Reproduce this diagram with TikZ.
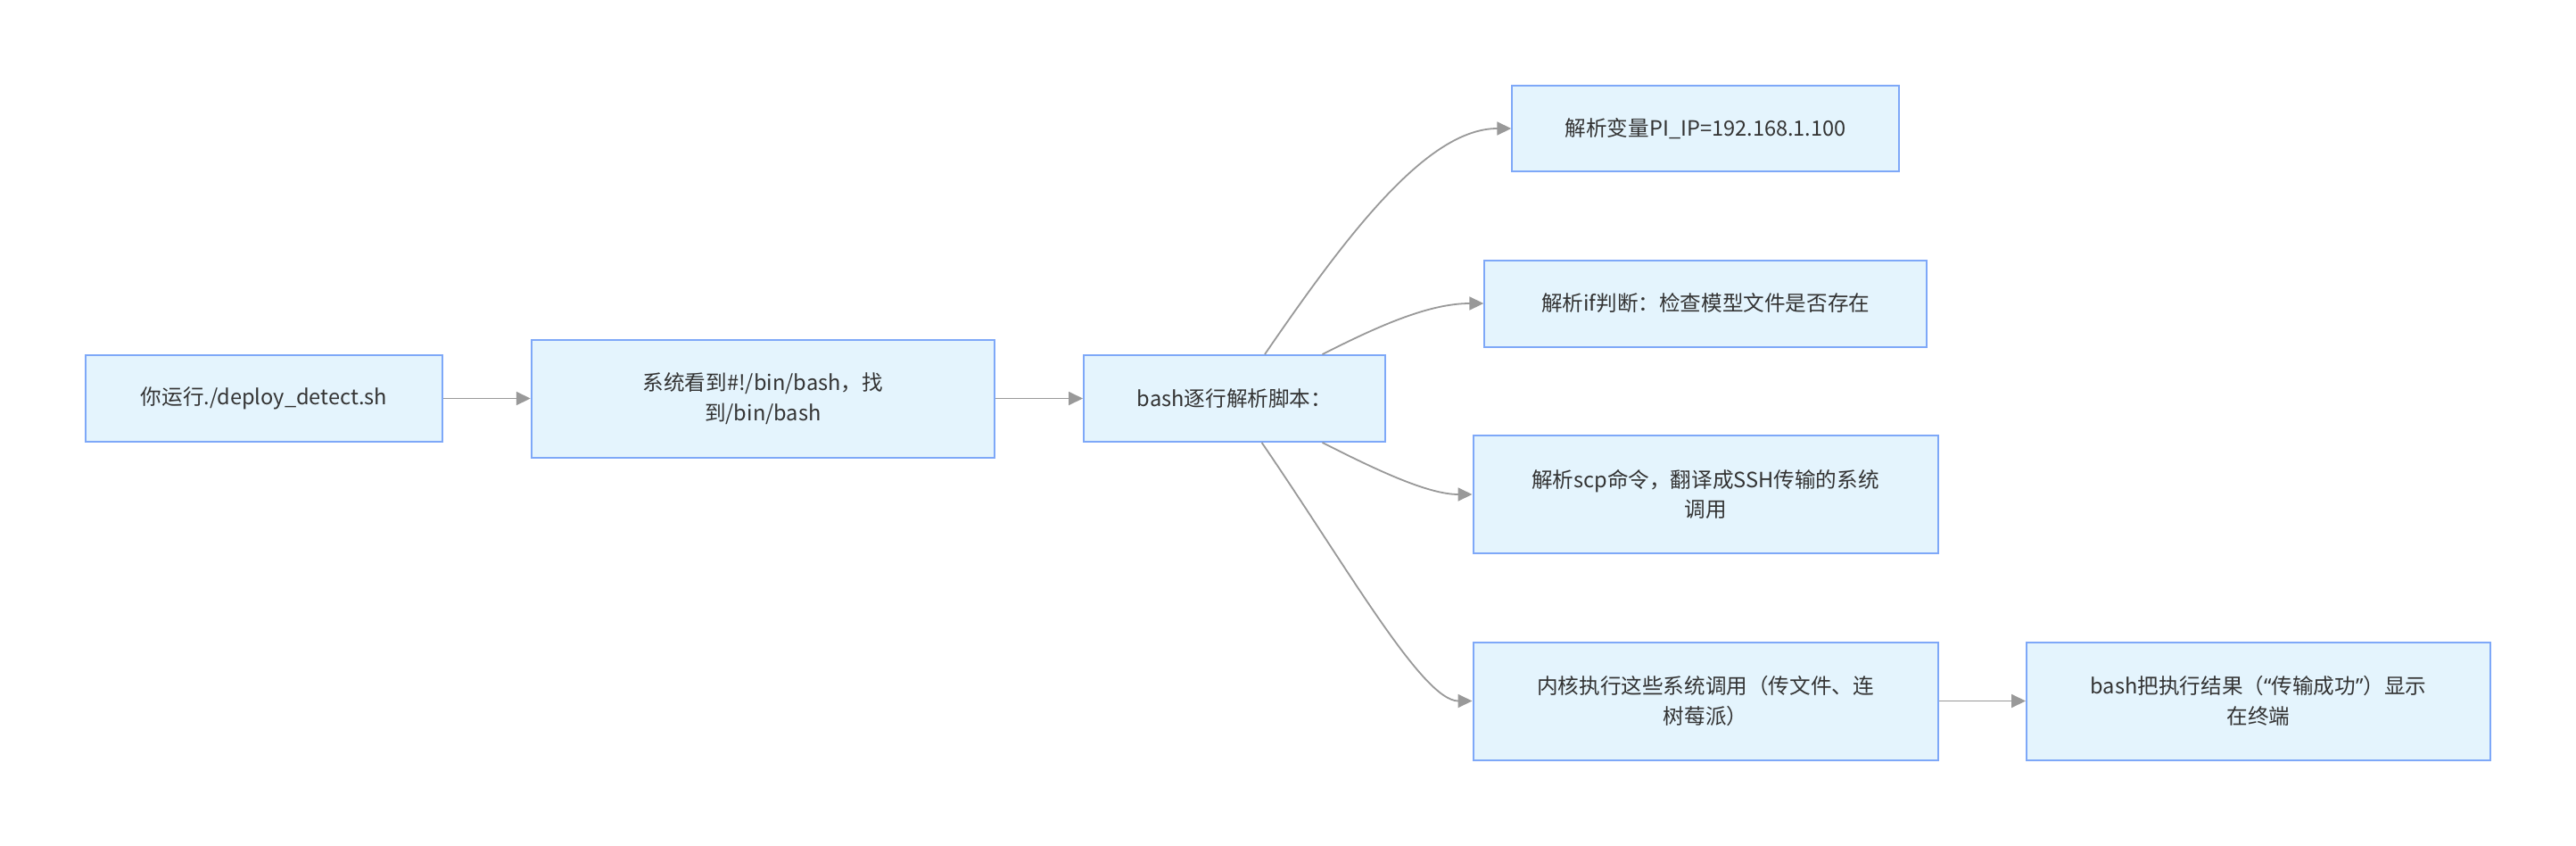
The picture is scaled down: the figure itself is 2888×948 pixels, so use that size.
\documentclass[tikz,border=0pt]{standalone}
\usepackage{fontspec}
\setmainfont{Noto Sans CJK SC}
\newfontfamily\latquote{Noto Sans}
\usetikzlibrary{arrows.meta,calc}
\definecolor{boxfill}{HTML}{E4F4FD}
\definecolor{boxdraw}{HTML}{7EA8F8}
\definecolor{txt}{HTML}{333333}
\definecolor{edge}{HTML}{999999}
\begin{document}
\begin{tikzpicture}[x=0.5pt,y=-0.5pt,
  box/.style={draw=boxdraw,fill=boxfill,line width=1pt,inner sep=0pt,
    text=txt,font=\fontsize{11.8pt}{16.8pt}\selectfont,align=center},
  conn/.style={draw=edge,line width=0.9pt,
    -{Triangle[length=8pt,width=7.5pt,fill=edge]}}]
\useasboundingbox (0,0) rectangle (2888,948);
\fill[white] (0,0) rectangle (2888,948);

\node[box,minimum width=200pt,minimum height=48.5pt] (n1) at (296,446.5) {你运行./deploy\_detect.sh};
\node[box,minimum width=259.5pt,minimum height=66pt] (n2) at (855.3,446.5) {系统看到\#!/bin/bash，找\\到/bin/bash};
\node[box,minimum width=169pt,minimum height=48.5pt] (n3) at (1384,446.5) {bash逐行解析脚本：};
\node[box,minimum width=217pt,minimum height=48pt] (n4) at (1912.3,144) {解析变量PI\_IP=192.168.1.100};
\node[box,minimum width=248pt,minimum height=48.5pt] (n5) at (1912.3,340) {解析if判断：检查模型文件是否存在};
\node[box,minimum width=260.5pt,minimum height=66pt] (n6) at (1912,554) {解析scp命令，翻译成SSH传输的系统\\调用};
\node[box,minimum width=260.5pt,minimum height=66pt] (n7) at (1912,785.5) {内核执行这些系统调用（传文件、连\\树莓派）};
\node[box,minimum width=260pt,minimum height=66pt] (n8) at (2532,785.5) {bash把执行结果（{\latquote “}传输成功{\latquote ”}）显示\\在终端};

\draw[conn] (n1.east) -- (n2.west);
\draw[conn] (n2.east) -- (n3.west);
\draw[conn] ($(n3.north west)!0.60!(n3.north east)$) .. controls (1510,263) and (1600,144) .. (n4.west);
\draw[conn] ($(n3.north west)!0.79!(n3.north east)$) .. controls (1540,368) and (1600,340) .. (n5.west);
\draw[conn] ($(n3.south west)!0.79!(n3.south east)$) .. controls (1540,525) and (1600,554) .. (n6.west);
\draw[conn] ($(n3.south west)!0.59!(n3.south east)$) .. controls (1510,635) and (1595,785.5) .. (n7.west);
\draw[conn] (n7.east) -- (n8.west);
\end{tikzpicture}
\end{document}
